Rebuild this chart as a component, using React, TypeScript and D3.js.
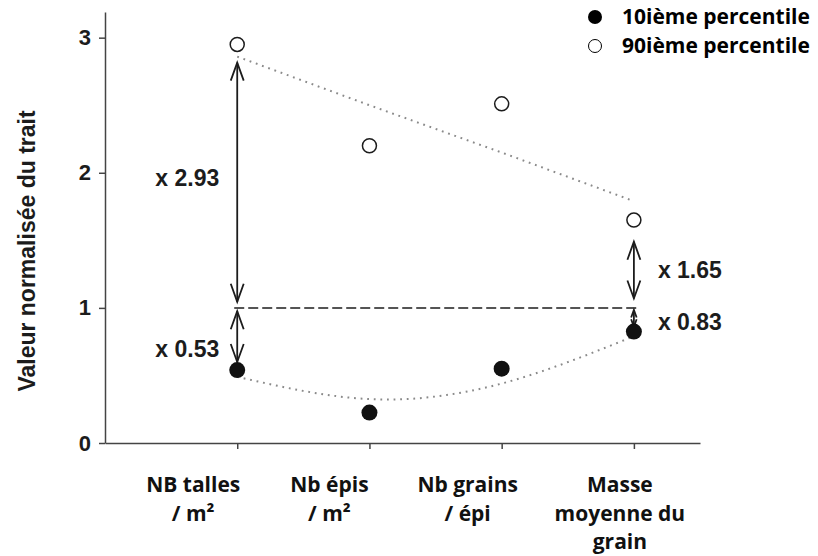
import React, { useEffect, useRef } from 'react';
import * as d3 from 'd3';

// catégories (une ligne par élément)
const categories = [
  ['NB talles', '/ m²'],
  ['Nb épis', '/ m²'],
  ['Nb grains', '/ épi'],
  ['Masse', 'moyenne du', 'grain'],
];
const p10 = [0.54, 0.225, 0.55, 0.825];
const p90 = [2.95, 2.2, 2.51, 1.65];
// tendances
const upperTrend = [2.86, 2.5, 2.15, 1.79];
const lowerTrend = [0.49, 0.325, 0.44, 0.79];
const yTicks = [0, 1, 2, 3];
const legendLabels = ['10ième percentile', '90ième percentile'];
// flèches : catégorie, de, à, texte, position du texte
const arrowCat = [1, 1, 4, 4];
const arrowFrom = [2.815, 0.975, 1.49, 0.985];
const arrowTo = [1.045, 0.6, 1.07, 0.86];
const arrowText = ['x 2.93', 'x 0.53', 'x 1.65', 'x 0.83'];
const arrowTextAt = [1.96, 0.7, 1.285, 0.9];

const W = 818;
const H = 556;

const App: React.FC = () => {
  const svgRef = useRef<SVGSVGElement>(null);

  useEffect(() => {
    const svg = d3.select(svgRef.current);
    svg.selectAll('*').remove();

    const x = d3.scaleLinear().domain([0, 4.5]).range([105, 700]);
    const y = d3.scaleLinear().domain([0, 3.19]).range([443, 12]);
    const ink = '#1c1c1c';
    const arial = '"Liberation Sans", Arial, sans-serif';
    const openSans = '"Open Sans", sans-serif';

    svg.append('rect').attr('width', W).attr('height', H).attr('fill', '#fff');

    // axes
    const yAxis = svg.append('g')
      .attr('transform', `translate(${x(0)},0)`)
      .call(d3.axisLeft(y).tickValues(yTicks).tickSize(6).tickSizeOuter(0).tickPadding(8).tickFormat(d3.format('d')));
    yAxis.selectAll('path, line').attr('stroke', '#444').attr('stroke-width', 1.5);
    yAxis.selectAll('text')
      .attr('fill', ink)
      .style('font-family', arial)
      .style('font-weight', 'bold')
      .style('font-size', '22px');

    const xAxis = svg.append('g')
      .attr('transform', `translate(0,${y(0)})`)
      .call(d3.axisBottom(x).tickValues([1, 2, 3, 4]).tickSize(6).tickSizeOuter(0).tickFormat(() => ''));
    xAxis.selectAll('path, line').attr('stroke', '#444').attr('stroke-width', 1.5);

    // ligne de référence à 1
    svg.append('line')
      .attr('x1', x(1) - 3).attr('x2', x(4) + 3)
      .attr('y1', y(1)).attr('y2', y(1))
      .attr('stroke', ink).attr('stroke-width', 1.5)
      .attr('stroke-dasharray', '10,4');

    // tendances en pointillés
    const idx = d3.range(4);
    svg.append('path')
      .attr('d', d3.line<number>().x(i => x(i + 1)).y(i => y(upperTrend[i]))(idx)!)
      .attr('fill', 'none').attr('stroke', '#8a8a8a').attr('stroke-width', 2)
      .attr('stroke-dasharray', '1.8,4.8');
    svg.append('path')
      .attr('d', d3.line<number>().x(i => x(i + 1)).y(i => y(lowerTrend[i])).curve(d3.curveNatural)(idx)!)
      .attr('fill', 'none').attr('stroke', '#8a8a8a').attr('stroke-width', 2)
      .attr('stroke-dasharray', '1.8,4.8');

    // flèches doubles
    arrowCat.forEach((c, i) => {
      const ax = x(c);
      const y1 = y(arrowFrom[i]);
      const y2 = y(arrowTo[i]);
      const len = Math.abs(y2 - y1);
      const hl = Math.min(18, len * 0.45);
      const hw = hl * 0.36;
      const g = svg.append('g').attr('stroke', ink).attr('fill', 'none').attr('stroke-width', 1.8);
      g.append('line').attr('x1', ax).attr('x2', ax).attr('y1', y1).attr('y2', y2);
      g.append('path').attr('d', `M${ax - hw},${y1 + hl}L${ax},${y1}L${ax + hw},${y1 + hl}`);
      g.append('path').attr('d', `M${ax - hw},${y2 - hl}L${ax},${y2}L${ax + hw},${y2 - hl}`);
      const left = c === 1;
      svg.append('text')
        .attr('x', left ? ax - 18 : ax + 24)
        .attr('y', y(arrowTextAt[i]))
        .attr('dy', '0.36em')
        .attr('text-anchor', left ? 'end' : 'start')
        .attr('fill', ink)
        .style('font-family', arial)
        .style('font-weight', 'bold')
        .style('font-size', '23px')
        .text(arrowText[i]);
    });

    // points
    svg.selectAll('circle.p90')
      .data(p90)
      .join('circle')
      .attr('class', 'p90')
      .attr('cx', (d, i) => x(i + 1))
      .attr('cy', d => y(d))
      .attr('r', 7)
      .attr('fill', '#fff')
      .attr('stroke', ink)
      .attr('stroke-width', 1.5);
    svg.selectAll('circle.p10')
      .data(p10)
      .join('circle')
      .attr('class', 'p10')
      .attr('cx', (d, i) => x(i + 1))
      .attr('cy', d => y(d))
      .attr('r', 8)
      .attr('fill', '#111');

    // libellés des catégories
    const labelShift = [-44, -40, -34, -14];
    categories.forEach((lines, i) => {
      const t = svg.append('text')
        .attr('text-anchor', 'middle')
        .attr('fill', '#111')
        .style('font-family', openSans)
        .style('font-weight', 'bold')
        .style('font-size', '21px');
      lines.forEach((ln, j) => {
        t.append('tspan')
          .attr('x', x(i + 1) + labelShift[i])
          .attr('y', 492 + j * 28.5)
          .text(ln);
      });
    });

    // titre de l'axe y
    svg.append('text')
      .attr('transform', `translate(35,251) rotate(-90)`)
      .attr('text-anchor', 'middle')
      .attr('fill', ink)
      .style('font-family', arial)
      .style('font-weight', 'bold')
      .style('font-size', '23px')
      .text('Valeur normalisée du trait');

    // légende
    legendLabels.forEach((lab, i) => {
      svg.append('circle')
        .attr('cx', 595).attr('cy', 17 + i * 29)
        .attr('r', i === 0 ? 7 : 6.5)
        .attr('fill', i === 0 ? '#000' : '#fff')
        .attr('stroke', '#000')
        .attr('stroke-width', i === 0 ? 0 : 1);
      svg.append('text')
        .attr('x', 622).attr('y', 24 + i * 29)
        .attr('fill', '#000')
        .style('font-family', openSans)
        .style('font-weight', 'bold')
        .style('font-size', '21px')
        .text(lab);
    });
  }, []);

  return (
    <svg ref={svgRef} width={W} height={H} style={{ position: 'absolute', left: 0, top: 0 }} />
  );
};

export default App;
